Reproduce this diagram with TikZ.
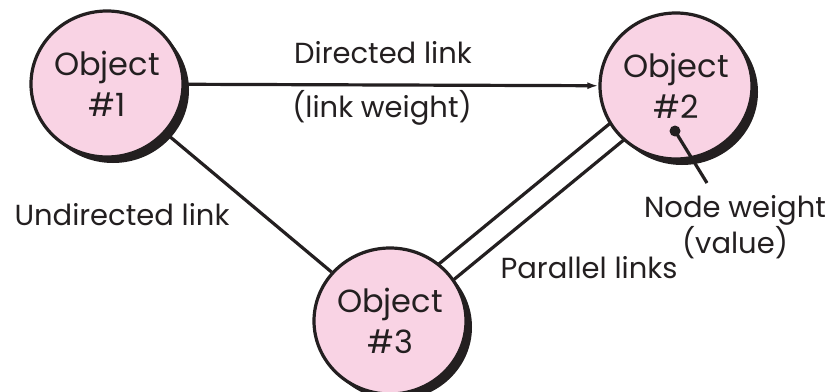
\documentclass[tikz,border=0pt]{standalone}
\usepackage{fontspec}
\setmainfont{Poppins}
\usetikzlibrary{shapes.geometric,shadows,arrows.meta,backgrounds}
\definecolor{pinkfill}{RGB}{249,211,228}
\definecolor{ink}{RGB}{35,31,32}
\begin{document}
\begin{tikzpicture}[x=1pt,y=-1pt,
  obj/.style={ellipse, draw=ink, line width=3.2pt, fill=pinkfill,
    minimum width=152pt, minimum height=146pt, inner sep=0pt,
    align=center, text=ink, font=\fontsize{32}{41}\selectfont,
    drop shadow={shadow xshift=6pt, shadow yshift=-6pt, fill=ink, opacity=1}},
  lab/.style={text=ink, inner sep=0pt, anchor=base, align=center,
    font=\fontsize{29}{36}\selectfont},
  link/.style={draw=ink, line width=3.2pt}]
\useasboundingbox (0,0) rectangle (835,391);
\node[obj] (o1) at (107,84) {Object\\\#1};
\node[obj] (o2) at (676,86) {Object\\\#2};
\node[obj] (o3) at (390,321) {Object\\\#3};
\begin{scope}[on background layer]
  \draw[link, -{Latex[length=11pt,width=7pt]}] (o1) -- (o2);
  \draw[link] (o1) -- (o3);
  \draw[link] ([shift={(-8.2pt,10.1pt)}]o2.center) -- ([shift={(-8.2pt,10.1pt)}]o3.center);
  \draw[link] ([shift={(5.4pt,-6.6pt)}]o2.center) -- ([shift={(5.4pt,-6.6pt)}]o3.center);
\end{scope}
\coordinate (dot) at (675,131);
\coordinate (nwend) at (707,183);
\draw[link] (dot) -- (nwend);
\fill[ink] (dot) circle (5.5pt);
\node[lab] (dl) at (383,63) {Directed link};
\node[lab] (lw) at (382,117) {(link weight)};
\node[lab] (ul) at (122,225) {Undirected link};
\node[lab] (pl) at (589,278) {Parallel links};
\node[lab] (nw) at (735,253) {Node weight\\(value)};
\end{tikzpicture}
\end{document}
